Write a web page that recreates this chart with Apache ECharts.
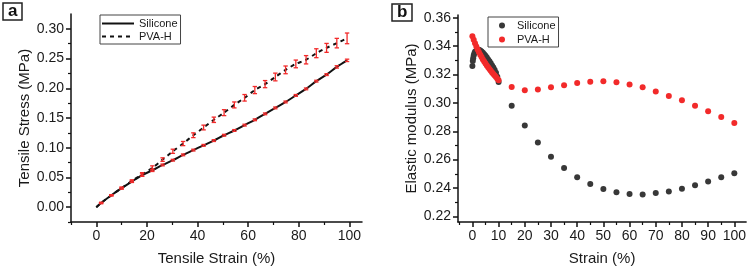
<!DOCTYPE html>
<html>
<head>
<meta charset="utf-8">
<script src="https://cdn.jsdelivr.net/npm/echarts@6/dist/echarts.min.js"></script>
<style>
  html, body { margin: 0; padding: 0; background: #fff; }
  #chart { width: 749px; height: 271px; }
</style>
</head>
<body>
<div id="chart"></div>
<script>
// panel a: tensile stress vs strain (sampled points with error bars)
var strainA = [1.9, 5.95, 10, 14.05, 18.1, 22.15, 26.2, 30.25, 34.3, 38.35, 42.4, 46.45, 50.5,
  54.55, 58.6, 62.65, 66.7, 70.75, 74.8, 78.85, 82.9, 86.95, 91, 95.05, 99.1];
var siliconeStress = [0.007, 0.020, 0.032, 0.043, 0.054, 0.062, 0.071, 0.079, 0.088, 0.096, 0.104, 0.112, 0.121,
  0.129, 0.138, 0.147, 0.157, 0.167, 0.177, 0.188, 0.199, 0.212, 0.223, 0.236, 0.247];
var siliconeErr = [0.001, 0.001, 0.0015, 0.0015, 0.002, 0.002, 0.0015, 0.0015, 0.0015, 0.0015, 0.0015, 0.0015, 0.0015,
  0.0015, 0.0015, 0.0015, 0.0015, 0.0015, 0.0015, 0.0015, 0.0015, 0.0015, 0.0015, 0.002, 0.002];
var pvaStress = [0.007, 0.020, 0.032, 0.044, 0.055, 0.066, 0.080, 0.094, 0.107, 0.121, 0.134, 0.147, 0.159,
  0.172, 0.184, 0.197, 0.207, 0.219, 0.231, 0.241, 0.248, 0.259, 0.268, 0.276, 0.284];
var pvaErr = [0.001, 0.001, 0.0015, 0.002, 0.003, 0.0035, 0.003, 0.0035, 0.0035, 0.004, 0.004, 0.0045, 0.005,
  0.005, 0.0055, 0.006, 0.006, 0.0065, 0.0065, 0.0065, 0.007, 0.0075, 0.0075, 0.008, 0.009];
var originA = [0, 0];

// panel b: elastic modulus vs strain
var siliconeStrainB = [0, 0.15, 0.3, 0.5, 0.75, 1, 1.5, 2, 2.5, 3, 3.5, 4, 4.5, 5, 5.5, 6, 6.5, 7, 7.5, 8, 8.5, 9, 9.5, 10,
  15, 20, 25, 30, 35, 40, 45, 50, 55, 60, 65, 70, 75, 80, 85, 90, 95, 100];
var siliconeModulus = [0.326, 0.3295, 0.3315, 0.3335, 0.335, 0.336, 0.337, 0.3375, 0.3375, 0.337, 0.3363, 0.3354,
  0.3343, 0.3332, 0.332, 0.3307, 0.3293, 0.3279, 0.3264, 0.3249, 0.3232, 0.3212, 0.3185, 0.3148,
  0.298, 0.284, 0.272, 0.262, 0.254, 0.2476, 0.2428, 0.2392, 0.237, 0.2357, 0.2354, 0.2364, 0.2376, 0.2394,
  0.242, 0.2446, 0.2476, 0.2504];
var pvaStrainB = [0, 0.5, 1, 1.5, 2, 2.5, 3, 3.5, 4, 4.5, 5, 5.5, 6, 6.5, 7, 7.5, 8, 8.5, 9, 9.5, 10,
  15, 20, 25, 30, 35, 40, 45, 50, 55, 60, 65, 70, 75, 80, 85, 90, 95, 100];
var pvaModulus = [0.347, 0.3445, 0.342, 0.3397, 0.3377, 0.3358, 0.334, 0.3323, 0.3307, 0.3292, 0.3278, 0.3264,
  0.3251, 0.3239, 0.3227, 0.3215, 0.3204, 0.3193, 0.3182, 0.3171, 0.316,
  0.3112, 0.309, 0.3095, 0.311, 0.3125, 0.314, 0.315, 0.3152, 0.3145, 0.313, 0.311, 0.308, 0.3048, 0.3019,
  0.298, 0.2942, 0.290, 0.2858];

// tick values
var xTicksA = [0, 20, 40, 60, 80, 100];
var xMinorA = [-10, 10, 30, 50, 70, 90];
var yTicksA = [0, 0.05, 0.10, 0.15, 0.20, 0.25, 0.30];
var yMinorA = [-0.025, 0.025, 0.075, 0.125, 0.175, 0.225, 0.275];
var xTicksB = [0, 10, 20, 30, 40, 50, 60, 70, 80, 90, 100];
var xMinorB = [-5, 5, 15, 25, 35, 45, 55, 65, 75, 85, 95];
var yTicksB = [0.22, 0.24, 0.26, 0.28, 0.30, 0.32, 0.34, 0.36];
var yMinorB = [0.23, 0.25, 0.27, 0.29, 0.31, 0.33, 0.35];

var red = '#f22a2a';
var dark = '#383838';
var font = 'Liberation Sans, Arial, sans-serif';

function pairs(xs, ys) {
  return xs.map(function (x, i) { return [x, ys[i]]; });
}
function triples(xs, ys, es) {
  return xs.map(function (x, i) { return [x, ys[i], es[i]]; });
}

function mainAxis(grid, pos, min, max, ticks, dec, name, gap) {
  return {
    type: 'value', gridIndex: grid, position: pos, min: min, max: max,
    name: name, nameLocation: 'middle', nameGap: gap,
    nameTextStyle: { fontSize: 15, color: '#1a1a1a', fontFamily: font },
    axisLine: { show: true, onZero: false, lineStyle: { color: '#111', width: 1.5 } },
    axisTick: { show: true, customValues: ticks, length: 5, lineStyle: { color: '#111', width: 1.5 } },
    axisLabel: {
      customValues: ticks, fontSize: 14, color: '#1a1a1a', fontFamily: font, margin: 7,
      formatter: function (v) { return v.toFixed(dec); }
    },
    splitLine: { show: false }
  };
}
// second axis on the same side, only for the short minor ticks
function minorAxis(grid, pos, min, max, ticks) {
  return {
    type: 'value', gridIndex: grid, position: pos, offset: 0, min: min, max: max,
    axisLine: { show: false, onZero: false },
    axisTick: { show: true, customValues: ticks, length: 3, lineStyle: { color: '#111', width: 1.2 } },
    axisLabel: { show: false },
    splitLine: { show: false }
  };
}

function errRender(params, api) {
  var x = api.value(0), y = api.value(1), e = api.value(2);
  var top = api.coord([x, y + e]);
  var bot = api.coord([x, y - e]);
  var w = 2.2;
  var st = { stroke: red, lineWidth: 1.3 };
  return {
    type: 'group',
    children: [
      { type: 'line', shape: { x1: top[0], y1: top[1], x2: bot[0], y2: bot[1] }, style: st },
      { type: 'line', shape: { x1: top[0] - w, y1: top[1], x2: top[0] + w, y2: top[1] }, style: st },
      { type: 'line', shape: { x1: bot[0] - w, y1: bot[1], x2: bot[0] + w, y2: bot[1] }, style: st }
    ]
  };
}

var myChart = echarts.init(document.getElementById('chart'));
var option = {
  animation: false,
  backgroundColor: '#fff',
  textStyle: { fontFamily: font },
  title: [
    { text: 'a', left: 3, top: 3, padding: [0, 5, 1, 5], borderColor: '#222', borderWidth: 1.5,
      textStyle: { fontSize: 17, fontWeight: 'bold', color: '#111', lineHeight: 16, fontFamily: font } },
    { text: 'b', left: 392, top: 4, padding: [0, 5, 1, 5], borderColor: '#222', borderWidth: 1.5,
      textStyle: { fontSize: 17, fontWeight: 'bold', color: '#111', lineHeight: 16, fontFamily: font } }
  ],
  legend: [
    { left: 100, top: 15, orient: 'vertical', borderColor: '#444', borderWidth: 1,
      padding: [3, 3, 2, 1], itemWidth: 32, itemHeight: 12, itemGap: 2,
      itemStyle: { opacity: 0 },
      textStyle: { fontSize: 11, color: '#1a1a1a', fontFamily: font },
      data: ['Silicone', 'PVA-H'] },
    { left: 488, top: 17, orient: 'vertical', borderColor: '#444', borderWidth: 1,
      padding: [3, 3, 2, 11], itemWidth: 6, itemHeight: 6, itemGap: 3,
      textStyle: { fontSize: 11, color: '#1a1a1a', fontFamily: font, padding: [0, 0, 0, 7] },
      data: [
        { name: 'Silicone', icon: 'circle', itemStyle: { color: dark, opacity: 1 } },
        { name: 'PVA-H', icon: 'circle', itemStyle: { color: red, opacity: 1 } }
      ] }
  ],
  grid: [
    { left: 71, top: 14, width: 291, height: 210 },
    { left: 458, top: 15, width: 290.4, height: 207.7 }
  ],
  xAxis: [
    mainAxis(0, 'bottom', -10, 105, xTicksA, 0, 'Tensile Strain (%)', 29),
    minorAxis(0, 'bottom', -10, 105, xMinorA),
    mainAxis(1, 'bottom', -5.5, 104.5, xTicksB, 0, 'Strain (%)', 29),
    minorAxis(1, 'bottom', -5.5, 104.5, xMinorB)
  ],
  yAxis: [
    mainAxis(0, 'left', -0.025, 0.325, yTicksA, 2, 'Tensile Stress (MPa)', 38),
    minorAxis(0, 'left', -0.025, 0.325, yMinorA),
    mainAxis(1, 'left', 0.216, 0.362, yTicksB, 2, 'Elastic modulus (MPa)', 37),
    minorAxis(1, 'left', 0.216, 0.362, yMinorB)
  ],
  series: [
    { name: 'Silicone', type: 'line', xAxisIndex: 0, yAxisIndex: 0, symbol: 'none', smooth: 0.3,
      lineStyle: { color: '#111', width: 2 }, itemStyle: { color: '#111' },
      data: [originA].concat(pairs(strainA, siliconeStress)) },
    { name: 'PVA-H', type: 'line', xAxisIndex: 0, yAxisIndex: 0, symbol: 'none', smooth: 0.3,
      lineStyle: { color: '#111', width: 2, type: [4, 4] }, itemStyle: { color: '#111' },
      data: [originA].concat(pairs(strainA, pvaStress)) },
    { name: 'Silicone error', type: 'custom', xAxisIndex: 0, yAxisIndex: 0, z: 5,
      renderItem: errRender, encode: { x: 0, y: 1 },
      data: triples(strainA, siliconeStress, siliconeErr) },
    { name: 'PVA-H error', type: 'custom', xAxisIndex: 0, yAxisIndex: 0, z: 5,
      renderItem: errRender, encode: { x: 0, y: 1 },
      data: triples(strainA, pvaStress, pvaErr) },
    { name: 'Silicone', type: 'scatter', xAxisIndex: 2, yAxisIndex: 2, symbolSize: 6,
      itemStyle: { color: dark, opacity: 1 },
      data: pairs(siliconeStrainB, siliconeModulus) },
    { name: 'PVA-H', type: 'scatter', xAxisIndex: 2, yAxisIndex: 2, symbolSize: 6,
      itemStyle: { color: red, opacity: 1 },
      data: pairs(pvaStrainB, pvaModulus) }
  ]
};
myChart.setOption(option);
</script>
</body>
</html>
